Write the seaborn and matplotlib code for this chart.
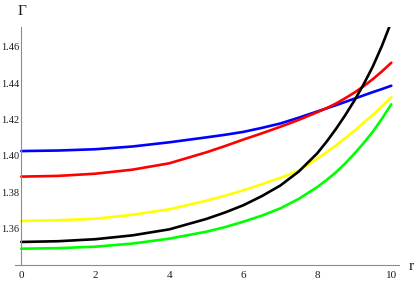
import matplotlib
matplotlib.use("Agg")
from matplotlib import pyplot as plt
from matplotlib.ticker import MultipleLocator
import pandas as pd
import seaborn as sns

# values
r = [0, 1, 2, 3, 4, 5, 5.5, 6, 6.5, 7, 7.5, 8, 8.25, 8.5, 8.75, 9, 9.25, 9.5, 9.75, 10]
gamma_blue = [1.4027, 1.4030, 1.4037, 1.4052, 1.4075, 1.4102, 1.4116, 1.4132, 1.4154, 1.4178,
              1.4210, 1.4244, 1.4261, 1.4278, 1.4296, 1.4314, 1.4332, 1.4350, 1.4367, 1.4385]
gamma_red = [1.3887, 1.3891, 1.3903, 1.3925, 1.3960, 1.4020, 1.4054, 1.4090, 1.4124, 1.4160,
             1.4198, 1.4240, 1.4262, 1.4287, 1.4316, 1.4347, 1.4382, 1.4421, 1.4464, 1.4511]
gamma_yellow = [1.3644, 1.3648, 1.3656, 1.3678, 1.3708, 1.3755, 1.3782, 1.3812, 1.3845, 1.3880,
                1.3920, 1.3985, 1.4020, 1.4057, 1.4097, 1.4138, 1.4182, 1.4225, 1.4272, 1.4321]
gamma_green = [1.3492, 1.3495, 1.3503, 1.3520, 1.3547, 1.3585, 1.3610, 1.3640, 1.3673, 1.3713,
               1.3765, 1.3830, 1.3868, 1.3910, 1.3958, 1.4012, 1.4070, 1.4133, 1.4205, 1.4283]
gamma_black = [1.3529, 1.3533, 1.3544, 1.3565, 1.3598, 1.3655, 1.3690, 1.3730, 1.3780, 1.3838,
               1.3915, 1.4015, 1.4078, 1.4147, 1.4222, 1.4303, 1.4392, 1.4490, 1.4605, 1.4735]

series = {"blue": gamma_blue, "red": gamma_red, "yellow": gamma_yellow,
          "green": gamma_green, "black": gamma_black}
palette = {"blue": "#0000ff", "red": "#ff0000", "yellow": "#ffff00",
           "green": "#00ff00", "black": "#000000"}

df = pd.concat([pd.DataFrame({"r": r, "gamma": v, "curve": k}) for k, v in series.items()])

sns.set_theme(style="white")
plt.rcParams["font.family"] = ["Liberation Serif", "DejaVu Serif"]

fig = plt.figure(figsize=(4.15, 2.81), dpi=100)
ax = fig.add_axes([0.0361, 0.0552, 0.9246, 0.8488])

sns.lineplot(data=df, x="r", y="gamma", hue="curve", palette=palette,
             hue_order=["blue", "red", "yellow", "green", "black"],
             linewidth=1.9, legend=False, ax=ax)

ax.set_xlim(-0.17, 10.2)
ax.set_ylim(1.34, 1.4707)

axis_grey = "#8c8c8c"
for s in ["top", "right"]:
    ax.spines[s].set_visible(False)
ax.spines["left"].set_position(("data", 0))
for s in ["left", "bottom"]:
    ax.spines[s].set_color(axis_grey)
    ax.spines[s].set_linewidth(0.8)

ax.xaxis.set_major_locator(MultipleLocator(2))
ax.xaxis.set_minor_locator(MultipleLocator(0.5))
ax.set_yticks([1.36, 1.38, 1.40, 1.42, 1.44, 1.46])
ax.yaxis.set_minor_locator(MultipleLocator(0.005))
ax.tick_params(which="both", direction="in", color=axis_grey, width=0.7,
               labelcolor="#1a1a1a")
ax.tick_params(axis="x", pad=4, labelsize=8)
ax.tick_params(axis="y", pad=1.5, labelsize=7.5)
ax.tick_params(which="major", length=4)
ax.tick_params(which="minor", length=2.3)
ax.set_yticklabels(["1.36", "1.38", "1.40", "1.42", "1.44", "1.46"])

ax.set_xlabel("")
ax.set_ylabel("")
fig.text(21.5 / 415, 1 - 11.5 / 281, "Γ", fontsize=11, ha="center", va="center", color="#1a1a1a")
fig.text(411 / 415, 1 - 267 / 281, "r", fontsize=11, ha="center", va="center", color="#1a1a1a")

fig.savefig("out.png", dpi=100)
